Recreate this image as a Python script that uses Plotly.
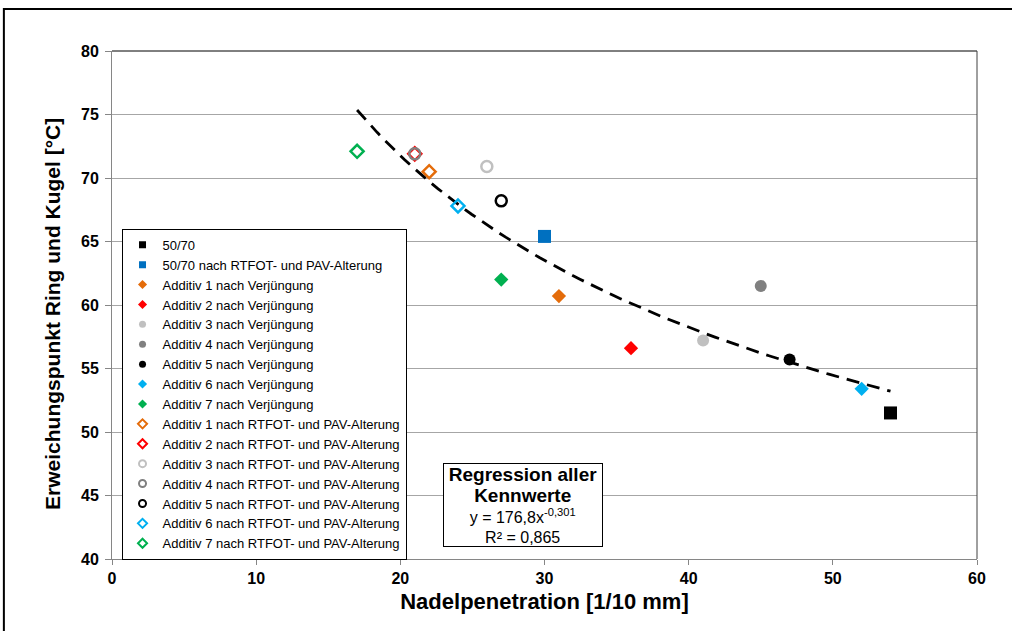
import plotly.graph_objects as go

# ---- data ----
series_names = [
    "50/70",
    "50/70 nach RTFOT- und PAV-Alterung",
    "Additiv 1 nach Verjüngung",
    "Additiv 2 nach Verjüngung",
    "Additiv 3 nach Verjüngung",
    "Additiv 4 nach Verjüngung",
    "Additiv 5 nach Verjüngung",
    "Additiv 6 nach Verjüngung",
    "Additiv 7 nach Verjüngung",
    "Additiv 1 nach RTFOT- und PAV-Alterung",
    "Additiv 2 nach RTFOT- und PAV-Alterung",
    "Additiv 3 nach RTFOT- und PAV-Alterung",
    "Additiv 4 nach RTFOT- und PAV-Alterung",
    "Additiv 5 nach RTFOT- und PAV-Alterung",
    "Additiv 6 nach RTFOT- und PAV-Alterung",
    "Additiv 7 nach RTFOT- und PAV-Alterung",
]
penetration = [54, 30, 31, 36, 41, 45, 47, 52, 27, 22, 21, 26, 21, 27, 24, 17]
softening_point = [51.5, 65.4, 60.7, 56.6, 57.2, 61.5, 55.7, 53.4, 62.0,
                   70.5, 71.9, 70.9, 71.9, 68.2, 67.8, 72.1]
series_colors = ["#000000", "#0070C0", "#E46C0A", "#FF0000", "#C0C0C0", "#808080",
                 "#000000", "#00B0F0", "#00B050", "#E46C0A", "#FF0000", "#C0C0C0",
                 "#808080", "#000000", "#00B0F0", "#00B050"]
series_symbols = ["square", "square", "diamond", "diamond", "circle", "circle",
                  "circle", "diamond", "diamond", "diamond-open", "diamond-open",
                  "circle-open", "circle-open", "circle-open", "diamond-open",
                  "diamond-open"]

# regression (power law) stated in the chart
reg_a = 176.8
reg_b = -0.301
reg_x_min, reg_x_max = 17, 54

x_ticks = [0, 10, 20, 30, 40, 50, 60]
y_ticks = [40, 45, 50, 55, 60, 65, 70, 75, 80]

FONT = "Liberation Sans, Arial, sans-serif"

fig = go.Figure()

# trendline
n = 80
reg_x = [reg_x_min + (reg_x_max - reg_x_min) * i / (n - 1) for i in range(n)]
reg_y = [reg_a * xv ** reg_b for xv in reg_x]
fig.add_trace(go.Scatter(x=reg_x, y=reg_y, mode="lines", showlegend=False,
                         line=dict(color="black", width=2.8, dash="13px,8px"),
                         hoverinfo="skip"))

for i, (name, xv, yv, col, sym) in enumerate(zip(series_names, penetration,
                                                 softening_point, series_colors,
                                                 series_symbols)):
    is_open = sym.endswith("open")
    if sym.startswith("square"):
        size = 13
    elif sym.startswith("circle"):
        size = 12 if not is_open else 11
    else:
        size = 11 if not is_open else 10
    grp = "g%d" % i
    # data marker
    fig.add_trace(go.Scatter(
        x=[xv], y=[yv], mode="markers", name=name, legendgroup=grp,
        showlegend=False,
        marker=dict(symbol=sym, color=col, size=size,
                    line=dict(color=col, width=2.5 if is_open else 0)),
    ))
    # legend entry (smaller symbol, as in the reference legend)
    fig.add_trace(go.Scatter(
        x=[None], y=[None], mode="markers", name=name, legendgroup=grp,
        showlegend=True,
        marker=dict(symbol=sym, color=col, size=7,
                    line=dict(color=col, width=2 if is_open else 0)),
    ))

fig.update_layout(
    width=1012, height=631,
    margin=dict(l=112, r=35, t=51, b=72),
    paper_bgcolor="white", plot_bgcolor="white",
    font=dict(family=FONT, color="black", size=12),
    showlegend=True,
    legend=dict(x=0.011, y=0.65, xanchor="left", yanchor="top",
                bgcolor="white", bordercolor="black", borderwidth=1,
                font=dict(size=13, family=FONT, color="black"),
                itemwidth=30, tracegroupgap=0, itemclick=False,
                itemdoubleclick=False),
    xaxis=dict(range=[0, 60], tickvals=x_ticks, showgrid=False, zeroline=False,
               showline=True, linecolor="#868686", linewidth=1,
               ticks="outside", ticklen=5, tickcolor="#868686",
               tickfont=dict(size=16, family=FONT, weight="bold"),
               title=dict(text="<b>Nadelpenetration [1/10 mm]</b>",
                          font=dict(size=22, family=FONT), standoff=7)),
    yaxis=dict(range=[40, 80], tickvals=y_ticks, showgrid=True, gridcolor="#A6A6A6",
               gridwidth=1, zeroline=False,
               showline=True, linecolor="#868686", linewidth=1,
               ticks="outside", ticklen=6, tickcolor="#868686",
               ticklabelstandoff=3,
               tickfont=dict(size=16, family=FONT, weight="bold")),
)

# y-axis title (slightly below the plot centre, as in the reference)
fig.add_annotation(
    x=-0.069, y=0.483, xref="paper", yref="paper", xanchor="center", yanchor="middle",
    text="<b>Erweichungspunkt Ring und Kugel [°C]</b>", textangle=-90,
    showarrow=False, font=dict(size=21, color="black", family=FONT),
)

# plot-area border (top and right)
fig.add_shape(type="line", xref="paper", yref="paper", x0=0, x1=1, y0=1, y1=1,
              line=dict(color="black", width=1))
fig.add_shape(type="line", xref="paper", yref="paper", x0=1, x1=1, y0=0, y1=1,
              line=dict(color="#404040", width=1))

# regression annotation box
fig.add_annotation(
    x=0.475, y=0.107, xref="paper", yref="paper", xanchor="center", yanchor="middle",
    text=("<span style='font-size:19px'><b>Regression aller</b></span><br>"
          "<span style='font-size:19px'><b>Kennwerte</b></span><br>"
          "y = 176,8x<sup>-0,301</sup><br>"
          "R² = 0,865"),
    showarrow=False, align="center",
    font=dict(size=16, color="black", family=FONT),
    bgcolor="white", bordercolor="black", borderwidth=1, width=158, borderpad=0,
)

# outer chart frame (only left/top visible in the reference)
fig.add_shape(type="rect", xref="paper", yref="paper",
              x0=-0.125, x1=1.2, y0=-0.3, y1=1.0827,
              line=dict(color="black", width=2))

fig.write_html("out.html")
